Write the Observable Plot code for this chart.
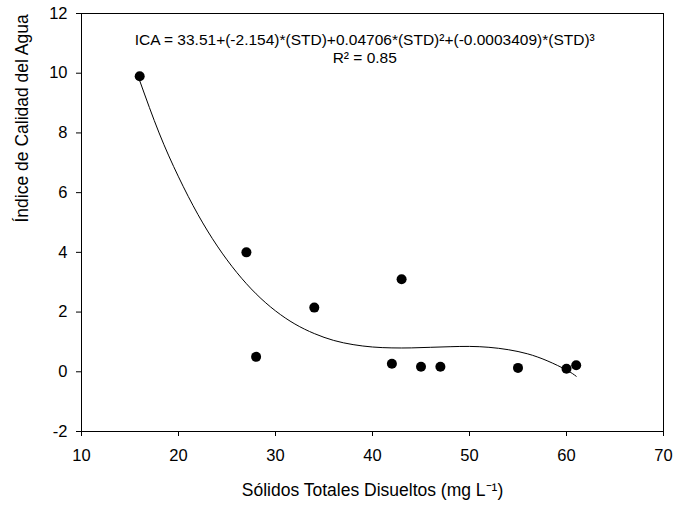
<!DOCTYPE html>
<html>
<head>
<meta charset="utf-8">
<script src="https://cdn.jsdelivr.net/npm/d3@7"></script>
<script src="https://cdn.jsdelivr.net/npm/@observablehq/plot@0.6"></script>
<style>
  html, body { margin: 0; padding: 0; background: #fff; }
  svg { font-family: "Liberation Sans", Arial, sans-serif; }
</style>
</head>
<body>
<div id="chart"></div>
<script>
// Observed points
const std = [16, 27, 28, 34, 42, 43, 45, 47, 55, 60, 61];
const ica = [9.9, 4.0, 0.5, 2.15, 0.27, 3.1, 0.17, 0.17, 0.13, 0.1, 0.22];

// Fitted curve
const curveX = [16, 18, 20, 22, 24, 26, 28, 30, 32, 34, 36, 38, 40, 42, 44, 46, 48, 50, 52, 54, 56, 58, 60, 61];
const curveY = [9.75, 8.0, 6.53, 5.27, 4.21, 3.33, 2.61, 2.04, 1.6, 1.28, 1.05, 0.91, 0.83, 0.8, 0.8, 0.82, 0.84, 0.85, 0.82, 0.74, 0.6, 0.37, 0.06, -0.15];

const xTicks = [10, 20, 30, 40, 50, 60, 70];
const yTicks = [-2, 0, 2, 4, 6, 8, 10, 12];

const equation = "ICA = 33.51+(-2.154)*(STD)+0.04706*(STD)²+(-0.0003409)*(STD)³";
const rsq = "R² = 0.85";
const xTitle = "Sólidos Totales Disueltos (mg L⁻¹)";
const yTitle = "Índice de Calidad del Agua";

const points = std.map((x, i) => ({x, y: ica[i]}));
const curve = curveX.map((x, i) => ({x, y: curveY[i]}));

const chart = Plot.plot({
  width: 673,
  height: 511,
  marginLeft: 81,
  marginRight: 10,
  marginTop: 13,
  marginBottom: 80,
  style: {fontFamily: '"Liberation Sans", Arial, sans-serif', background: "#fff", color: "#000"},
  x: {domain: [10, 70]},
  y: {domain: [-2, 12]},
  marks: [
    Plot.frame({stroke: "#000", strokeWidth: 1}),
    Plot.axisX({ticks: xTicks, tickSize: 5, tickPadding: 13, fontSize: 16.5, label: null, stroke: "#000", tickFormat: d => String(d)}),
    Plot.axisY({ticks: yTicks, tickSize: 5, tickPadding: 9, fontSize: 16.5, label: null, stroke: "#000", tickFormat: d => String(d)}),
    Plot.line(curve, {x: "x", y: "y", stroke: "#000", strokeWidth: 1, curve: "natural"}),
    Plot.dot(points, {x: "x", y: "y", r: 5, fill: "#000", stroke: "none"}),
    Plot.text([equation], {x: 39.2, y: 11.1, text: d => d, fontSize: 15.5, fill: "#000", textAnchor: "middle"}),
    Plot.text([rsq], {x: 39.2, y: 10.5, text: d => d, fontSize: 15.5, fill: "#000", textAnchor: "middle"}),
    Plot.text([xTitle], {frameAnchor: "bottom", text: d => d, dy: 64, fontSize: 17.5, fill: "#000"}),
    Plot.text([yTitle], {frameAnchor: "left", text: d => d, dx: -59, rotate: -90, fontSize: 17.5, fill: "#000"})
  ]
});
document.getElementById("chart").appendChild(chart);
</script>
</body>
</html>
